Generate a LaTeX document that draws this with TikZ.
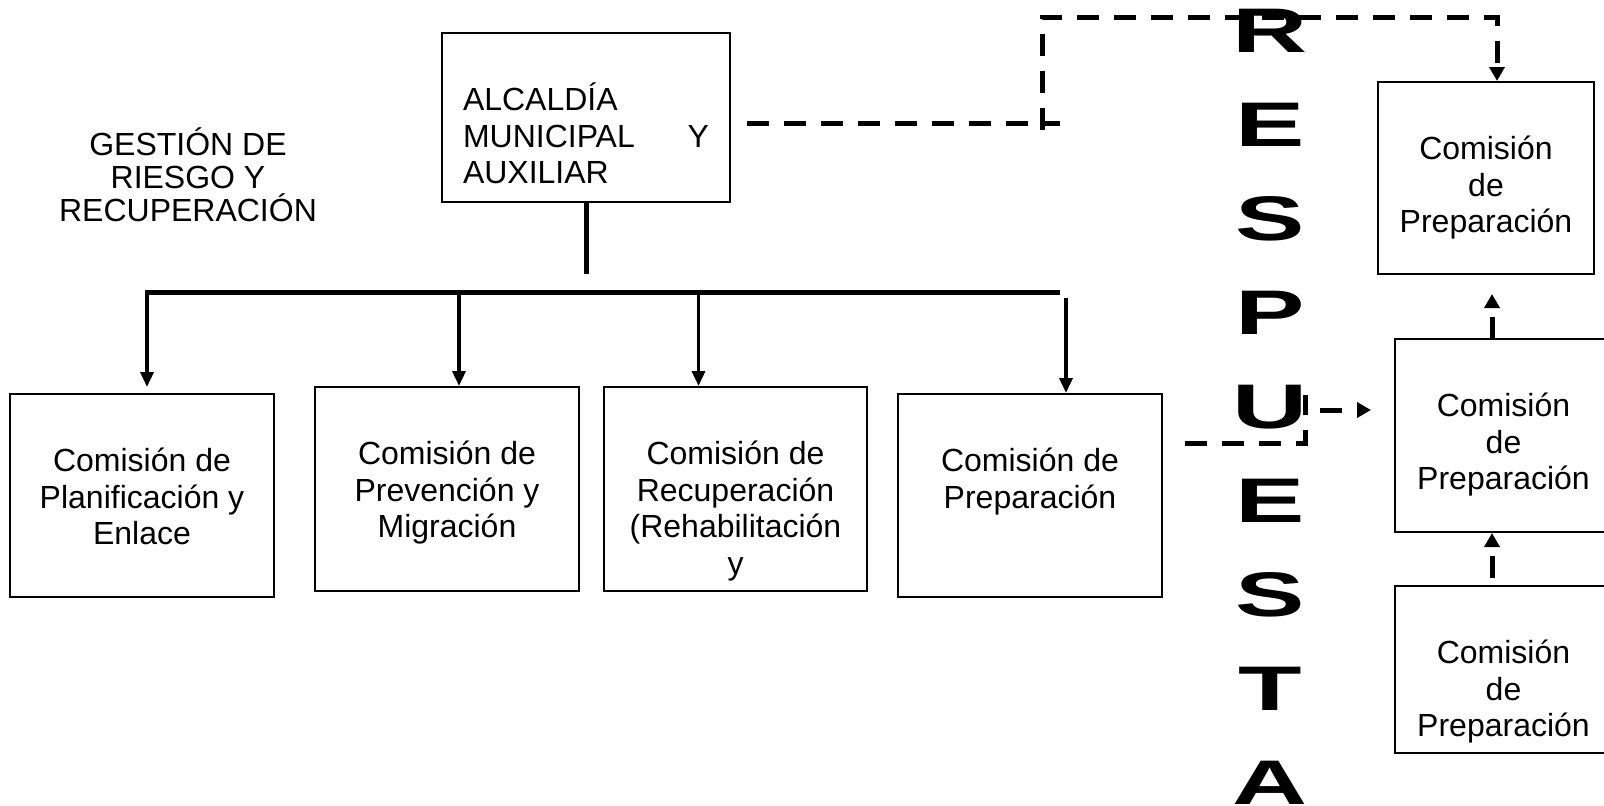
\documentclass[tikz,border=0pt]{standalone}
\usepackage{fontspec}
\setmainfont{Liberation Sans}
\usetikzlibrary{positioning,arrows.meta}

\begin{document}
\begin{tikzpicture}[x=1pt,y=1pt,auto]
    \tikzstyle{every node}=[inner sep=0]
    \tikzstyle{caja}=[draw=black,line width=2pt,rectangle,fill=none]
    \tikzstyle{texto}=[draw=none,align=center,font=\fontsize{32}{36.5}\selectfont]
    \tikzstyle{letra}=[draw=none,anchor=base,font=\fontsize{63}{63}\selectfont\bfseries]
    \tikzstyle{barra}=[line width=5pt]
    \tikzstyle{flecha}=[line width=3.5pt,-{Triangle[length=15pt,width=13pt]}]
    \tikzstyle{discont}=[line width=5pt,dash pattern=on 22pt off 15pt]
    \tikzstyle{discflecha}=[discont,-{Triangle[length=14pt,width=15pt]}]
    \useasboundingbox (0,0) rectangle (1604,-806);
    {
        % cabecera
        \node[caja,minimum width=288pt,minimum height=169pt] (alc) at (586,-117.5) {};
        \node[texto,align=left,text width=246pt,below=51pt of alc.north] (alctxt) {ALCALDÍA\\MUNICIPAL\hfill Y\\AUXILIAR};
        \node[texto,font=\fontsize{32}{33}\selectfont,anchor=north] (gestion) at (188,-128) {GESTIÓN DE\\RIESGO Y\\RECUPERACIÓN};

        % comisiones
        \node[caja,minimum width=264pt,minimum height=203pt] (plan) at (142,-495.5) {};
        \node[caja,minimum width=264pt,minimum height=204pt] (prev) at (447,-489) {};
        \node[caja,minimum width=263pt,minimum height=204pt] (recu) at (735.5,-489) {};
        \node[caja,minimum width=264pt,minimum height=203pt] (prep) at (1030,-495.5) {};
        \node[texto,below=55pt of plan.north] (plantxt) {Comisión de\\Planificación y\\Enlace};
        \node[texto,below=55pt of prev.north] (prevtxt) {Comisión de\\Prevención y\\Migración};
        \node[texto,below=55pt of recu.north] (recutxt) {Comisión de\\Recuperación\\(Rehabilitación\\y};
        \node[texto,below=55pt of prep.north] (preptxt) {Comisión de\\Preparación};

        \node[caja,minimum width=216pt,minimum height=192pt] (prepa) at (1486,-178) {};
        \node[caja,minimum width=217pt,minimum height=193pt] (prepb) at (1503.5,-435.5) {};
        \node[caja,minimum width=217pt,minimum height=167pt] (prepc) at (1503.5,-669.5) {};
        \node[texto,below=55pt of prepa.north] (prepatxt) {Comisión\\de\\Preparación};
        \node[texto,below=55pt of prepb.north] (prepbtxt) {Comisión\\de\\Preparación};
        \node[texto,below=55pt of prepc.north] (prepctxt) {Comisión\\de\\Preparación};

        % RESPUESTA
        \newcount\dist
        \foreach \letra [count=\i from 0] in {R,E,S,P,U,E,S,T,A} {
            \dist=\i
            \multiply\dist by -94
            \advance\dist by -52
            \node[letra] (l\i) at (1270,\dist) {\scalebox{1.65}[1]{\letra}};
        }

        % lineas
        \draw[barra] (alc.south) -- ++(0,-71);
        \coordinate (b0) at (145,-292);
        \coordinate (bfin) at (1060,-292);
        \draw[barra] (b0) -- (bfin);
        \coordinate (f1) at (147,-292);
        \coordinate (f2) at (459,-292);
        \coordinate (f3) at (698.5,-292);
        \coordinate (f4) at (1066,-298);
        \draw[flecha,shorten >=6pt] (f1) -- (f1 |- plan.north);
        \draw[flecha] (f2) -- (f2 |- prev.north);
        \draw[flecha] (f3) -- (f3 |- recu.north);
        \draw[flecha] (f4) -- (f4 |- prep.north);

        \coordinate (d1) at (747,-123);
        \coordinate (d2) at (1060,-123);
        \coordinate (d3) at (1042,-130);
        \coordinate (d4) at (1497,-17);
        \draw[discont] (d1) -- (d2);
        \draw[discflecha] (d3) |- (d4) -- (d4 |- prepa.north);

        \coordinate (u1) at (1492,-339);
        \coordinate (u2) at (1492,-586);
        \draw[discflecha,shorten >=19pt] (u1) -- (u1 |- prepa.south);
        \draw[discflecha,shorten <=8pt] (u2) -- (u2 |- prepb.south);

        \coordinate (e1) at (1185,-443);
        \coordinate (e2) at (1305,-395);
        \coordinate (e3) at (1305,-410);
        \draw[discont] (e1) -| (e2);
        \draw[discflecha,dash phase=22pt,shorten >=23pt] (e3) -- (e3 -| prepb.west);
    }
\end{tikzpicture}
\end{document}
